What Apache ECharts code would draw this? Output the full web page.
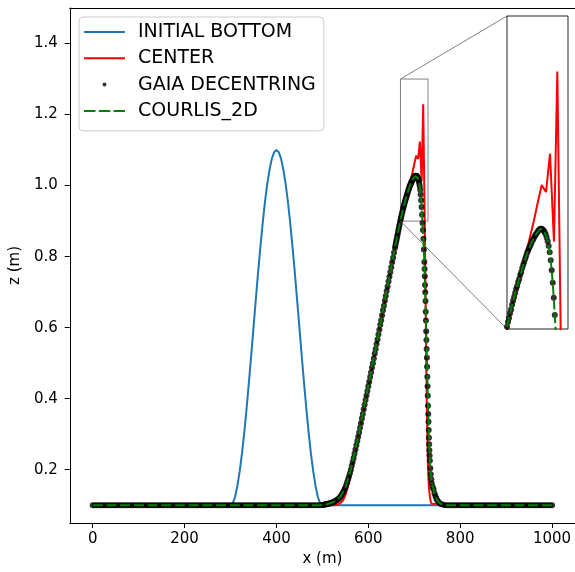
<!DOCTYPE html>
<html>
<head>
<meta charset="utf-8">
<script src="https://cdn.jsdelivr.net/npm/echarts@6/dist/echarts.min.js"></script>
<style>
  html, body { margin: 0; padding: 0; background: #fff; }
  #chart { width: 575px; height: 572px; }
</style>
</head>
<body>
<div id="chart"></div>
<script>
// ---- Data -----------------------------------------------------------------
const seriesNames = ['INITIAL BOTTOM', 'CENTER', 'GAIA DECENTRING', 'COURLIS_2D'];

const xTicks = [0, 200, 400, 600, 800, 1000];
const zTicks = [0.2, 0.4, 0.6, 0.8, 1.0, 1.2, 1.4];

// zoomed window shown in the inset
const zoomX = [670, 730];
const zoomZ = [0.9, 1.3];

// initial bed (bump centred at 400 m)
const bottomX = [0, 300, 305, 310, 315, 320, 325, 330, 335, 340, 345, 350, 355, 360, 365, 370, 375, 380, 385, 390, 395,
  400, 405, 410, 415, 420, 425, 430, 435, 440, 445, 450, 455, 460, 465, 470, 475, 480, 485, 490, 495, 500, 1000];
const bottomZ = [0.1, 0.1, 0.106, 0.124, 0.155, 0.196, 0.246, 0.306, 0.373, 0.445, 0.521, 0.600, 0.678, 0.755, 0.827, 0.894, 0.954, 1.005, 1.045, 1.076, 1.094,
  1.100, 1.094, 1.076, 1.045, 1.005, 0.954, 0.894, 0.827, 0.755, 0.678, 0.600, 0.521, 0.445, 0.373, 0.306, 0.246, 0.196, 0.155, 0.124, 0.106, 0.1, 0.1];

// centred scheme
const centerX = [0, 525, 530, 535, 540, 545, 550, 555, 560, 565, 570, 580, 590, 600, 610, 620, 630, 640, 650, 660,
  670, 676, 682.8, 690, 695.9, 700, 704.1, 706, 708.4, 712.3, 716.2, 719.5, 722.8, 724, 725, 726, 727, 728, 729,
  730, 731, 732, 734, 736, 738, 742, 1000];
const centerZ = [0.1, 0.1, 0.101, 0.103, 0.107, 0.114, 0.128, 0.150, 0.178, 0.208, 0.240, 0.302, 0.366, 0.432, 0.498, 0.565, 0.633, 0.700, 0.768, 0.835,
  0.901, 0.934, 0.969, 1.004, 1.035, 1.060, 1.084, 1.080, 1.075, 1.124, 1.012, 1.229, 0.899, 0.760, 0.640, 0.530, 0.420, 0.330, 0.260,
  0.210, 0.175, 0.150, 0.125, 0.110, 0.104, 0.1, 0.1];

// GAIA decentred scheme: sampled [x, z] points
const gaiaPoints = [
  [0, 0.1], [5, 0.1], [10, 0.1], [15, 0.1], [20, 0.1], [25, 0.1], [30, 0.1], [35, 0.1], [40, 0.1], [45, 0.1],
  [50, 0.1], [55, 0.1], [60, 0.1], [65, 0.1], [70, 0.1], [75, 0.1], [80, 0.1], [85, 0.1], [90, 0.1], [95, 0.1],
  [100, 0.1], [105, 0.1], [110, 0.1], [115, 0.1], [120, 0.1], [125, 0.1], [130, 0.1], [135, 0.1], [140, 0.1], [145, 0.1],
  [150, 0.1], [155, 0.1], [160, 0.1], [165, 0.1], [170, 0.1], [175, 0.1], [180, 0.1], [185, 0.1], [190, 0.1], [195, 0.1],
  [200, 0.1], [205, 0.1], [210, 0.1], [215, 0.1], [220, 0.1], [225, 0.1], [230, 0.1], [235, 0.1], [240, 0.1], [245, 0.1],
  [250, 0.1], [255, 0.1], [260, 0.1], [265, 0.1], [270, 0.1], [275, 0.1], [280, 0.1], [285, 0.1], [290, 0.1], [295, 0.1],
  [300, 0.1], [305, 0.1], [310, 0.1], [315, 0.1], [320, 0.1], [325, 0.1], [330, 0.1], [335, 0.1], [340, 0.1], [345, 0.1],
  [350, 0.1], [355, 0.1], [360, 0.1], [365, 0.1], [370, 0.1], [375, 0.1], [380, 0.1], [385, 0.1], [390, 0.1], [395, 0.1],
  [400, 0.1], [405, 0.1], [410, 0.1], [415, 0.1], [420, 0.1], [425, 0.1], [430, 0.1], [435, 0.1], [440, 0.1], [445, 0.1],
  [450, 0.1], [455, 0.1], [460, 0.1], [465, 0.1], [470, 0.1], [475, 0.1], [480, 0.1], [485, 0.1], [490, 0.1], [495, 0.1],
  [500, 0.101], [502, 0.101], [504, 0.102], [506, 0.102], [508, 0.103], [510, 0.103], [512, 0.104], [514, 0.105], [516, 0.105], [518, 0.106],
  [520, 0.107], [522, 0.108], [524, 0.109], [526, 0.110], [528, 0.112], [530, 0.113], [532, 0.115], [534, 0.117], [536, 0.119], [538, 0.122],
  [540, 0.125], [542, 0.129], [544, 0.134], [546, 0.139], [548, 0.144], [550, 0.150], [552, 0.157], [554, 0.165], [556, 0.173], [558, 0.181],
  [560, 0.190], [562, 0.200], [564, 0.211], [566, 0.222], [568, 0.233], [570, 0.245], [572, 0.257], [574, 0.269], [576, 0.281], [578, 0.293],
  [580, 0.305], [582, 0.318], [584, 0.331], [586, 0.344], [588, 0.357], [590, 0.370], [592, 0.383], [594, 0.396], [596, 0.409], [598, 0.422],
  [600, 0.435], [602, 0.448], [604, 0.461], [606, 0.474], [608, 0.487], [610, 0.500], [612, 0.513], [614, 0.527], [616, 0.540], [618, 0.554],
  [620, 0.567], [622, 0.581], [624, 0.594], [626, 0.608], [628, 0.621], [630, 0.635], [632, 0.649], [634, 0.662], [636, 0.676], [638, 0.689],
  [640, 0.703], [642, 0.716], [644, 0.730], [646, 0.743], [648, 0.757], [650, 0.770], [652, 0.784], [654, 0.797], [656, 0.811], [658, 0.824],
  [659, 0.831], [660, 0.838], [661, 0.845], [662, 0.851], [663, 0.858], [664, 0.864], [665, 0.871], [666, 0.877], [667, 0.884], [668, 0.890],
  [669, 0.897], [670, 0.903], [671, 0.909], [672, 0.914], [673, 0.920], [674, 0.925], [675, 0.931], [676, 0.936], [677, 0.941], [678, 0.946],
  [679, 0.951], [680, 0.955], [681, 0.960], [682, 0.964], [683, 0.969], [684, 0.973], [685, 0.978], [686, 0.982], [687, 0.986], [688, 0.990],
  [689, 0.994], [690, 0.998], [691, 1.001], [692, 1.004], [693, 1.007], [694, 1.010], [695, 1.013], [696, 1.015], [697, 1.018], [698, 1.020],
  [699, 1.022], [700, 1.024], [701, 1.026], [702, 1.027], [703, 1.028], [704, 1.028], [705, 1.027], [706, 1.026], [707, 1.024], [708, 1.021],
  [709, 1.017], [710, 1.012], [711, 1.006], [712, 0.998], [713, 0.988], [714, 0.975], [715, 0.959], [716, 0.940], [717, 0.918], [718, 0.895],
  [719, 0.875], [720, 0.850], [721, 0.820], [722, 0.785], [722.5, 0.765], [723, 0.745], [723.5, 0.720], [724, 0.700], [724.5, 0.675], [725, 0.645],
  [725.5, 0.620], [726, 0.590], [726.5, 0.565], [727, 0.540], [727.5, 0.515], [728, 0.490], [728.5, 0.462], [729, 0.435], [729.5, 0.408], [730, 0.380],
  [730.5, 0.357], [731, 0.335], [731.5, 0.312], [732, 0.290], [732.5, 0.272], [733, 0.255], [733.5, 0.240], [734, 0.225], [735, 0.204], [736, 0.187],
  [737, 0.173], [738, 0.162], [740, 0.152], [742, 0.145], [744, 0.134], [746, 0.126], [748, 0.120], [750, 0.114], [753, 0.109], [756, 0.105],
  [760, 0.103], [765, 0.101],
  [770, 0.1], [775, 0.1], [780, 0.1], [785, 0.1], [790, 0.1], [795, 0.1], [800, 0.1], [805, 0.1], [810, 0.1], [815, 0.1],
  [820, 0.1], [825, 0.1], [830, 0.1], [835, 0.1], [840, 0.1], [845, 0.1], [850, 0.1], [855, 0.1], [860, 0.1], [865, 0.1],
  [870, 0.1], [875, 0.1], [880, 0.1], [885, 0.1], [890, 0.1], [895, 0.1], [900, 0.1], [905, 0.1], [910, 0.1], [915, 0.1],
  [920, 0.1], [925, 0.1], [930, 0.1], [935, 0.1], [940, 0.1], [945, 0.1], [950, 0.1], [955, 0.1], [960, 0.1], [965, 0.1],
  [970, 0.1], [975, 0.1], [980, 0.1], [985, 0.1], [990, 0.1], [995, 0.1], [1000, 0.1]
];

// COURLIS 2D profile
const courlisX = [0, 495, 500, 510, 520, 530, 540, 550, 560, 570, 580, 590, 600, 610, 620, 630, 640, 650, 660,
  670, 676, 680, 686, 690, 694, 698, 702, 704, 706, 708, 710, 712, 714, 716, 718, 720, 722, 724, 726, 728,
  730, 732, 734, 736, 738, 742, 746, 750, 756, 765, 770, 1000];
const courlisZ = [0.1, 0.1, 0.101, 0.103, 0.107, 0.113, 0.125, 0.150, 0.190, 0.245, 0.305, 0.370, 0.435, 0.500, 0.567, 0.635, 0.703, 0.770, 0.838,
  0.903, 0.936, 0.955, 0.982, 0.998, 1.010, 1.020, 1.027, 1.028, 1.026, 1.021, 1.012, 0.998, 0.975, 0.940, 0.895, 0.850, 0.785, 0.700, 0.590, 0.490,
  0.380, 0.290, 0.225, 0.187, 0.162, 0.145, 0.126, 0.114, 0.105, 0.101, 0.1, 0.1];

// ---- Helpers ----------------------------------------------------------------
const zip = (xs, ys) => xs.map((x, i) => [x, ys[i]]);
const FONT = 'DejaVu Sans';
const BLUE = '#1f77b4', RED = '#ff0000', GREEN = '#008000';
const DASH = [10, 3.7];
const DOT = 6;

// legend glyphs: two invisible specks fix the 41x14 box, the rest is the drawn mark
const BOX = 'M0,0h0.01v0.01h-0.01zM41,13.99h0.01v0.01h-0.01z';
const iconLine = 'path://' + BOX + 'M0,6h41v2h-41z';
const iconDash = 'path://' + BOX + 'M0,6h11.5v2h-11.5zM14.8,6h11.5v2h-11.5zM29.6,6h11.4v2h-11.4z';
const iconDot = 'path://' + BOX + 'M18.5,7a2,2 0 1 0 4,0a2,2 0 1 0 -4,0z';

const bottomData = zip(bottomX, bottomZ);
const centerData = zip(centerX, centerZ);
const courlisData = zip(courlisX, courlisZ);

const chart = echarts.init(document.getElementById('chart'), null, { renderer: 'canvas' });

const tickLabel = { fontFamily: FONT, fontSize: 15, color: '#000' };
const spine = { show: true, onZero: false, lineStyle: { color: '#000', width: 1 } };
const hidden = { axisTick: { show: false }, axisLabel: { show: false }, splitLine: { show: false } };

const option = {
  animation: false,
  backgroundColor: '#fff',
  textStyle: { fontFamily: FONT },
  grid: [
    { left: 69, right: 0, top: 8, bottom: 47 },
    { left: 507, right: 7, top: 16, bottom: 243, show: true, borderColor: '#222', borderWidth: 1, backgroundColor: '#fff', z: 5 }
  ],
  xAxis: [
    {
      type: 'value', gridIndex: 0, min: -50, max: 1050, position: 'bottom',
      name: 'x (m)', nameLocation: 'middle', nameGap: 29,
      nameTextStyle: tickLabel,
      axisLine: spine,
      axisTick: { show: true, length: 5, inside: false, customValues: xTicks, lineStyle: { color: '#000', width: 1 } },
      axisLabel: Object.assign({ show: true, customValues: xTicks, margin: 9, formatter: v => String(v) }, tickLabel),
      splitLine: { show: false }
    },
    Object.assign({ type: 'value', gridIndex: 1, min: zoomX[0], max: zoomX[1], axisLine: { show: false, onZero: false } }, hidden),
    // top spine of the main axes
    Object.assign({ type: 'value', gridIndex: 0, min: -50, max: 1050, position: 'top', axisLine: spine }, hidden)
  ],
  yAxis: [
    {
      type: 'value', gridIndex: 0, min: 0.05, max: 1.5, position: 'left',
      name: 'z (m)', nameLocation: 'middle', nameGap: 42,
      nameTextStyle: tickLabel,
      axisLine: spine,
      axisTick: { show: true, length: 5, inside: false, customValues: zTicks, lineStyle: { color: '#000', width: 1 } },
      axisLabel: Object.assign({ show: true, customValues: zTicks, margin: 12, formatter: v => v.toFixed(1) }, tickLabel),
      splitLine: { show: false }
    },
    Object.assign({ type: 'value', gridIndex: 1, min: zoomZ[0], max: zoomZ[1], axisLine: { show: false, onZero: false } }, hidden)
  ],
  legend: {
    left: 79, top: 17,
    orient: 'vertical',
    selectedMode: false,
    itemWidth: 41, itemHeight: 14, itemGap: 4.3,
    padding: [4, 8, 9, 5],
    backgroundColor: 'rgba(255,255,255,0.8)',
    borderColor: '#cccccc', borderWidth: 1, borderRadius: 4,
    textStyle: { fontFamily: FONT, fontSize: 19, lineHeight: 22, color: '#000', padding: [0, 0, 0, 8] },
    z: 20,
    data: [
      { name: seriesNames[0], icon: iconLine, itemStyle: { color: BLUE, borderWidth: 0 } },
      { name: seriesNames[1], icon: iconLine, itemStyle: { color: RED, borderWidth: 0 } },
      { name: seriesNames[2], icon: iconDot, itemStyle: { color: '#000', borderWidth: 0 } },
      { name: seriesNames[3], icon: iconDash, itemStyle: { color: GREEN, borderWidth: 0 } }
    ]
  },
  series: [
    // main axes
    { name: seriesNames[0], type: 'line', xAxisIndex: 0, yAxisIndex: 0, data: bottomData,
      symbol: 'none', lineStyle: { color: BLUE, width: 2 }, itemStyle: { color: BLUE }, z: 2 },
    { name: seriesNames[1], type: 'line', xAxisIndex: 0, yAxisIndex: 0, data: centerData,
      symbol: 'none', lineStyle: { color: RED, width: 2 }, itemStyle: { color: RED }, z: 2 },
    { name: seriesNames[2], type: 'scatter', xAxisIndex: 0, yAxisIndex: 0, data: gaiaPoints,
      symbol: 'circle', symbolSize: DOT, itemStyle: { color: '#000' }, z: 3 },
    { name: seriesNames[3], type: 'line', xAxisIndex: 0, yAxisIndex: 0, data: courlisData,
      symbol: 'none', lineStyle: { color: GREEN, width: 2, type: DASH }, itemStyle: { color: GREEN }, z: 4,
      markArea: {
        silent: true,
        itemStyle: { color: 'rgba(0,0,0,0)', borderColor: '#808080', borderWidth: 1 },
        data: [[{ coord: [zoomX[0], zoomZ[1]] }, { coord: [zoomX[1], zoomZ[0]] }]]
      } },
    // inset axes
    { name: seriesNames[1], type: 'line', xAxisIndex: 1, yAxisIndex: 1, data: centerData,
      symbol: 'none', lineStyle: { color: RED, width: 2 }, itemStyle: { color: RED }, z: 6 },
    { name: seriesNames[2], type: 'scatter', xAxisIndex: 1, yAxisIndex: 1, data: gaiaPoints,
      symbol: 'circle', symbolSize: DOT, itemStyle: { color: '#000' }, z: 7 },
    { name: seriesNames[3], type: 'line', xAxisIndex: 1, yAxisIndex: 1, data: courlisData,
      symbol: 'none', lineStyle: { color: GREEN, width: 2, type: DASH }, itemStyle: { color: GREEN }, z: 8 }
  ]
};

chart.setOption(option);

// connectors from the zoom window to the inset (upper-left and lower-left corners)
const pMainTop = chart.convertToPixel({ gridIndex: 0 }, [zoomX[0], zoomZ[1]]);
const pMainBot = chart.convertToPixel({ gridIndex: 0 }, [zoomX[0], zoomZ[0]]);
const pInsetTop = chart.convertToPixel({ gridIndex: 1 }, [zoomX[0], zoomZ[1]]);
const pInsetBot = chart.convertToPixel({ gridIndex: 1 }, [zoomX[0], zoomZ[0]]);

chart.setOption({
  graphic: [
    { type: 'line', silent: true, z: 4,
      shape: { x1: pMainTop[0], y1: pMainTop[1], x2: pInsetTop[0], y2: pInsetTop[1] },
      style: { stroke: '#808080', lineWidth: 1 } },
    { type: 'line', silent: true, z: 4,
      shape: { x1: pMainBot[0], y1: pMainBot[1], x2: pInsetBot[0], y2: pInsetBot[1] },
      style: { stroke: '#808080', lineWidth: 1 } }
  ]
});
</script>
</body>
</html>
